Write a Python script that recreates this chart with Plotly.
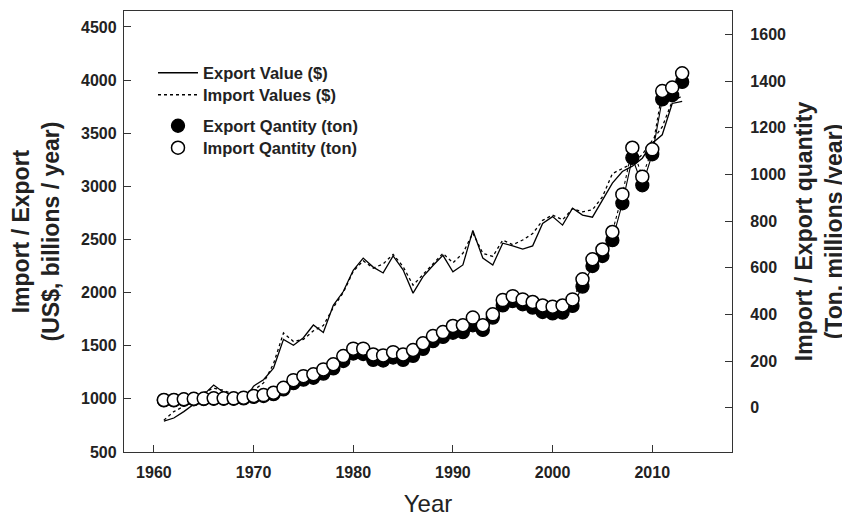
import plotly.graph_objects as go

years = list(range(1961, 2014))

export_value = [790, 820, 880, 950, 1040, 1130, 1060, 1020, 975, 1120, 1180, 1290,
                1560, 1505, 1575, 1695, 1625, 1880, 2010, 2210, 2325, 2240, 2185, 2345, 2215, 1995, 2150, 2255, 2350,
                2195, 2260, 2585, 2325, 2260, 2465, 2440, 2410, 2440, 2650, 2715, 2635, 2795, 2730, 2710, 2870,
                3030, 3140, 3190, 3265, 3405, 3485, 3780, 3800]

import_value = [800, 880, 930, 990, 1060, 1100, 1080, 1040, 1010, 1080, 1150, 1330,
                1620, 1540, 1560, 1640, 1690, 1860, 2000, 2200, 2300, 2230, 2270, 2360, 2245, 2070, 2170, 2280, 2370,
                2280, 2370, 2560, 2370, 2340, 2495, 2450, 2495, 2555, 2680, 2730, 2685, 2790, 2760, 2780, 2900,
                3120, 3170, 3215, 3300, 3430, 3560, 3800, 3850]

import_qty = [33, 33, 36, 38, 39, 40, 40, 40, 43, 50, 54, 64, 85,
              118, 135, 143, 164, 186, 221, 253, 253, 228, 224, 238, 228, 247, 276, 307, 324,
              350, 353, 386, 353, 400, 461, 478, 464, 453, 438, 433, 438, 464, 550, 636, 678,
              753, 914, 1114, 990, 1107, 1357, 1372, 1433]

export_qty = [31, 31, 34, 36, 37, 38, 38, 38, 40, 46, 50, 58, 78,
              105, 120, 128, 146, 168, 200, 232, 230, 205, 202, 215, 205, 222, 252, 285, 303,
              321, 324, 353, 333, 386, 438, 457, 443, 429, 410, 404, 407, 436, 519, 607, 650,
              718, 876, 1071, 953, 1086, 1321, 1339, 1396]

FONT = "Liberation Sans, Arial, Helvetica, sans-serif"
AX = "#333333"
TXT = "#222222"

fig = go.Figure()

fig.add_trace(go.Scatter(x=years, y=export_value, mode="lines", name="Export Value ($)",
                         line=dict(color="black", width=1.3), legend="legend"))
fig.add_trace(go.Scatter(x=years, y=import_value, mode="lines", name="Import Values ($)",
                         line=dict(color="black", width=1.3, dash="dot"), legend="legend2"))

fig.add_trace(go.Scatter(x=years, y=export_qty, mode="lines", showlegend=False, yaxis="y2",
                         line=dict(color="black", width=1.1)))
fig.add_trace(go.Scatter(x=years, y=import_qty, mode="lines", showlegend=False, yaxis="y2",
                         line=dict(color="black", width=1.1, dash="dot")))
fig.add_trace(go.Scatter(x=years, y=export_qty, mode="markers", name="Export Qantity (ton)", yaxis="y2",
                         marker=dict(size=13, color="black", line=dict(color="black", width=1.3)),
                         legend="legend3"))
fig.add_trace(go.Scatter(x=years, y=import_qty, mode="markers", name="Import Qantity (ton)", yaxis="y2",
                         marker=dict(size=13, color="white", line=dict(color="black", width=1.5)),
                         legend="legend4"))

tickfont = dict(family=FONT, size=16, color=TXT, weight="bold")
titlefont = dict(family=FONT, size=23, color=TXT, weight="bold")
legfont = dict(family=FONT, size=16.5, color=TXT, weight="bold")


def leg(row_px):
    return dict(x=(153 - 124) / 608, y=1 - (row_px - 11) / 441, xanchor="left", yanchor="middle",
                bgcolor="rgba(0,0,0,0)", font=legfont, tracegroupgap=0, itemwidth=40)


# page has an 8px body margin; margins below compensate so the plot box lands at
# x 124..732, y 11..452 in the window
fig.update_layout(
    width=850, height=520,
    margin=dict(l=116, r=126, t=3, b=76),
    paper_bgcolor="white", plot_bgcolor="white",
    font=dict(family=FONT, color=TXT),
    xaxis=dict(range=[1957, 2018], tickmode="array", tickvals=[1960, 1970, 1980, 1990, 2000, 2010],
               ticks="inside", ticklen=7, tickcolor=AX, showline=True, linecolor=AX, linewidth=1.3,
               mirror=True, showgrid=False, zeroline=False, tickfont=tickfont, ticklabelstandoff=6,
               title=dict(text="Year", font=dict(family=FONT, size=24, color=TXT), standoff=14)),
    yaxis=dict(range=[500, 4650], tickmode="array", tickvals=[500, 1000, 1500, 2000, 2500, 3000, 3500, 4000, 4500],
               ticks="inside", ticklen=7, tickcolor=AX, showline=True, linecolor=AX, linewidth=1.3,
               showgrid=False, zeroline=False, tickfont=tickfont, ticklabelstandoff=3,
               title=dict(text="Import / Export<br>(US$, billions / year)", font=titlefont, standoff=16)),
    yaxis2=dict(range=[-190, 1700], overlaying="y", side="right", tickmode="array",
                tickvals=[0, 200, 400, 600, 800, 1000, 1200, 1400, 1600],
                ticks="inside", ticklen=7, tickcolor=AX, showline=True, linecolor=AX, linewidth=1.3,
                showgrid=False, zeroline=False, tickfont=tickfont, ticklabelstandoff=14,
                title=dict(text="Import / Export quantity<br>(Ton, millions /year)", font=titlefont, standoff=10)),
    legend=leg(73),
    legend2=leg(95),
    legend3=leg(126),
    legend4=leg(148),
    showlegend=True,
)

fig.write_html("out.html")
